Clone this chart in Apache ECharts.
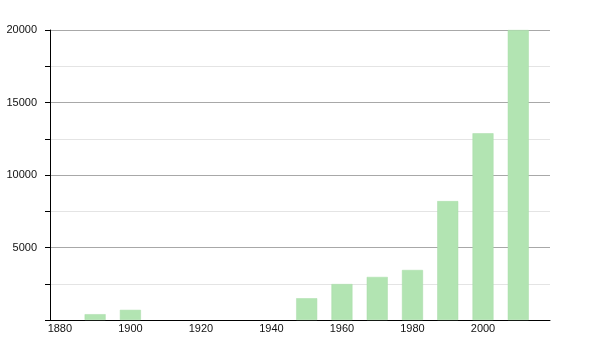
<!DOCTYPE html>
<html>
<head>
<meta charset="utf-8">
<script src="https://cdn.jsdelivr.net/npm/echarts@6/dist/echarts.min.js"></script>
<style>
html,body{margin:0;padding:0;background:#fff;}
#chart{width:600px;height:350px;}
</style>
</head>
<body>
<div id="chart"></div>
<script>
var years = [1890, 1900, 1950, 1960, 1970, 1980, 1990, 2000, 2010];
var population = [400, 700, 1500, 2480, 2970, 3450, 8200, 12880, 20000];
var xTickLabels = [1880, 1900, 1920, 1940, 1960, 1980, 2000];
var yTickLabels = [5000, 10000, 15000, 20000];

var chart = echarts.init(document.getElementById('chart'), null, {renderer: 'canvas'});
var font = 'Liberation Sans, Arial, sans-serif';
chart.setOption({
  animation: false,
  grid: {left: 50, right: 50, top: 30, bottom: 30, containLabel: false},
  xAxis: {
    type: 'value',
    min: 1877.2,
    max: 2019,
    axisLine: {show: true, onZero: false, lineStyle: {color: '#000', width: 1}},
    axisTick: {show: false},
    splitLine: {show: false},
    axisLabel: {
      customValues: xTickLabels,
      color: '#111', fontSize: 11, fontFamily: font, margin: 3,
      formatter: function (v) { return String(v); }
    }
  },
  yAxis: {
    type: 'value',
    min: 0,
    max: 20000,
    interval: 2500,
    axisLine: {show: true, lineStyle: {color: '#000', width: 1}},
    axisTick: {show: true, length: 5, lineStyle: {color: '#000'}},
    splitLine: {show: true, lineStyle: {color: ['#a8a8a8', '#e4e4e4'], width: 1}},
    axisLabel: {
      color: '#111', fontSize: 11, fontFamily: font, margin: 13,
      formatter: function (v) { return yTickLabels.indexOf(v) >= 0 ? String(v) : ''; }
    }
  },
  series: [{
    type: 'bar',
    barWidth: 21,
    itemStyle: {color: '#b2e4b2', borderColor: '#a9dca9', borderWidth: 0.5},
    data: years.map(function (y, i) { return [y, population[i]]; })
  }]
});
</script>
</body>
</html>
